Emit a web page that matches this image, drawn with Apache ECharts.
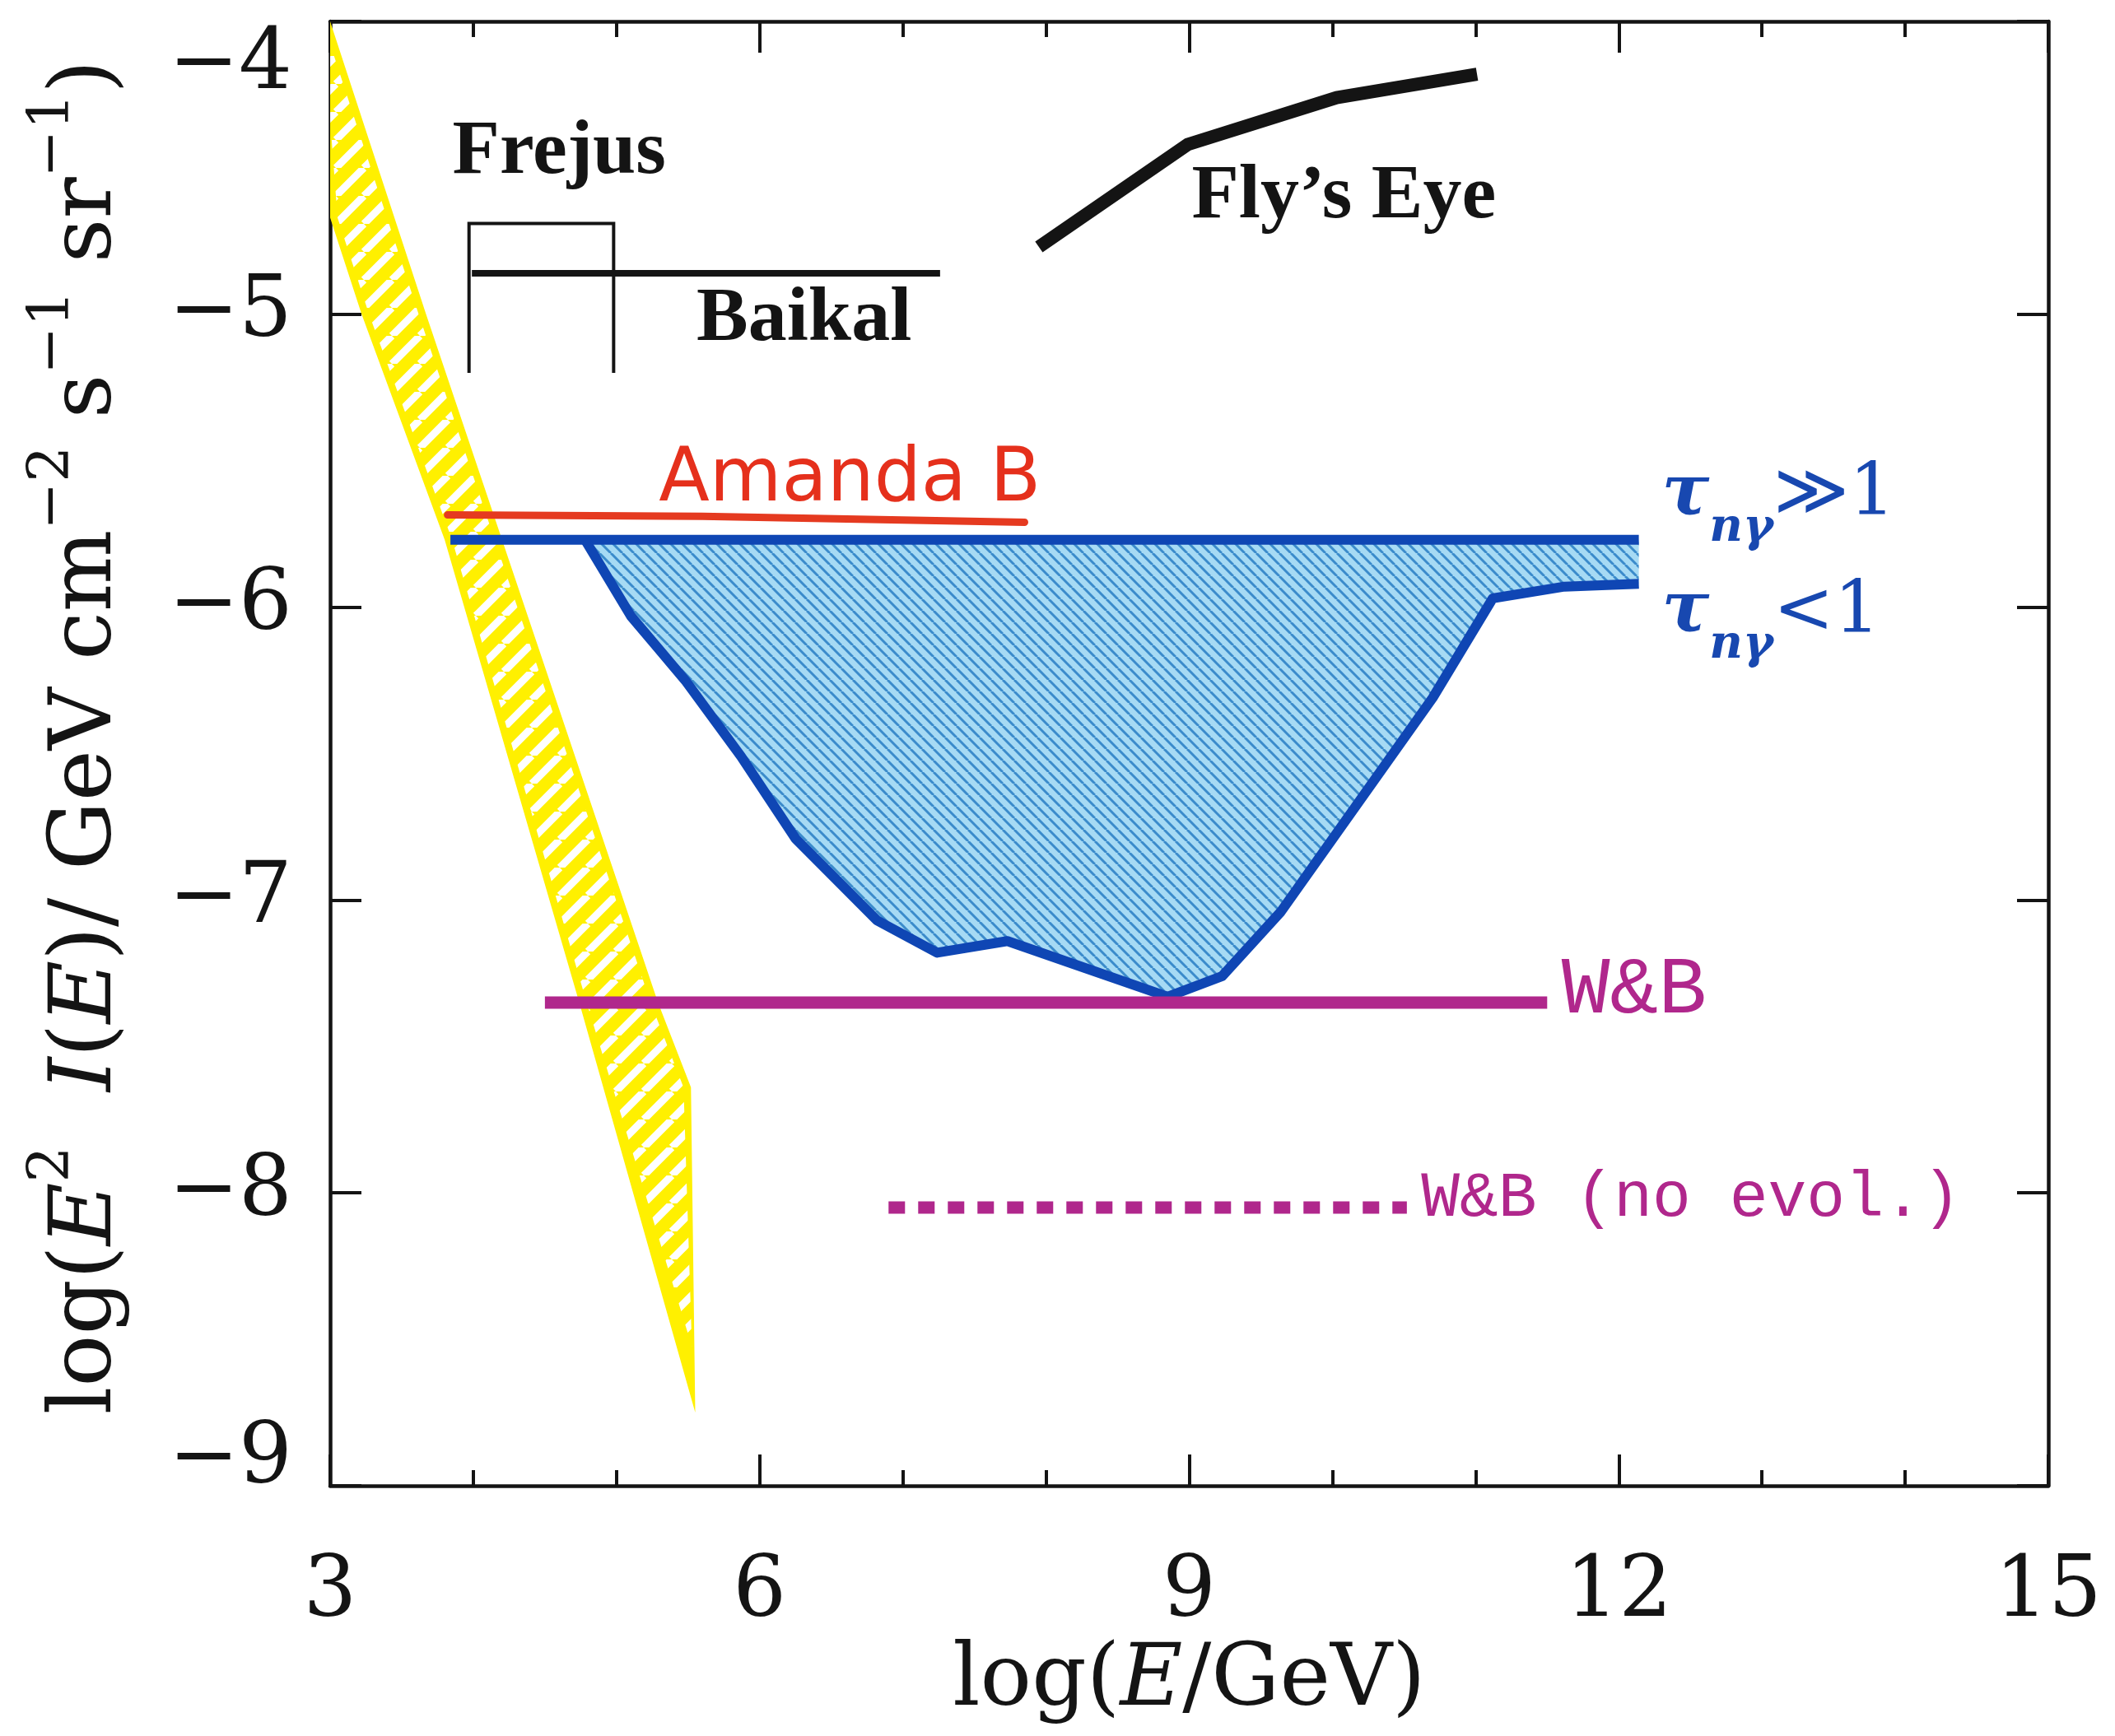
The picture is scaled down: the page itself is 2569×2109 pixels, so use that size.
<!DOCTYPE html>
<html>
<head>
<meta charset="utf-8">
<script src="https://cdn.jsdelivr.net/npm/echarts@6/dist/echarts.min.js"></script>
<style>
  html, body { margin: 0; padding: 0; background: #ffffff; }
  #chart { width: 2569px; height: 2109px; }
</style>
</head>
<body>
<div id="chart"></div>
<script>
// ---- axis ranges and ticks: log10(E/GeV) vs log10(E^2 I(E) / GeV cm^-2 s^-1 sr^-1)
const xTicks = [3, 6, 9, 12, 15];
const yTicks = [-9, -8, -7, -6, -5, -4];

// atmospheric neutrino band (upper-right and lower-left edges)
const atmUpperEdge = [[3.0, -4.0], [3.67, -5.0], [5.29, -7.35], [5.52, -7.64], [5.55, -8.75]];
const atmLowerEdge = [[3.0, -4.67], [3.22, -5.0], [3.80, -5.77], [4.74, -7.35], [5.55, -8.75]];

// neutron-escape model: optically thick and thin limits
const tauThick = [[3.84, -5.77], [12.14, -5.77]];
const tauThin = [
  [4.78, -5.77], [5.10, -6.03], [5.29, -6.14], [5.48, -6.25], [5.87, -6.51],
  [6.25, -6.79], [6.82, -7.07], [7.24, -7.18], [7.73, -7.14], [8.26, -7.23],
  [8.85, -7.33], [9.23, -7.26], [9.64, -7.04], [10.70, -6.31], [11.12, -5.97],
  [11.62, -5.93], [12.14, -5.92]
];

// experimental limits and bounds
const amandaB = [[3.82, -5.685], [5.60, -5.69], [7.85, -5.71]];
const wbBound = [[4.50, -7.35], [11.50, -7.35]];
const wbNoEvol = [[6.90, -8.05], [10.52, -8.05]];
const baikal = [[3.99, -4.86], [7.26, -4.86]];
const frejus = [[3.97, -5.20], [3.97, -4.69], [4.98, -4.69], [4.98, -5.20]];
const flysEye = [[7.95, -4.77], [8.99, -4.42], [10.03, -4.26], [11.01, -4.18]];

// annotation texts
const labelFrejus = 'Frejus';
const labelBaikal = 'Baikal';
const labelFly = 'Fly\u2019s Eye';
const labelAmanda = 'Amanda B';
const labelWB = 'W&B';
const labelWBnoEvol = 'W&B (no evol.)';

// ---- styling helpers
const SERIF = 'DejaVu Serif';
const INK = '#141414';
const BLUE = '#0f46b4';
const MAGENTA = '#b0278c';

function hatch(size, bg, fg, lw, dir) {
  const c = document.createElement('canvas');
  c.width = size; c.height = size;
  const g = c.getContext('2d');
  g.fillStyle = bg;
  g.fillRect(0, 0, size, size);
  g.strokeStyle = fg;
  g.lineWidth = lw;
  g.beginPath();
  for (let k = -1; k <= 1; k++) {
    if (dir === 'up') {
      g.moveTo(k * size, size);
      g.lineTo(k * size + size, 0);
    } else {
      g.moveTo(k * size, 0);
      g.lineTo(k * size + size, size);
    }
  }
  g.stroke();
  return c;
}
const yellowHatch = { image: hatch(34, '#fff000', '#ffffff', 9, 'up'), repeat: 'repeat' };
const blueHatch = { image: hatch(14, '#a6daf4', '#3b8bcb', 3, 'down'), repeat: 'repeat' };

function yTickLabel(v) {
  const s = (v < 0 ? '\u2212' : '') + Math.abs(v);
  if (v === -4) return '{hi|' + s + '}';
  if (v === -9) return '{lo|' + s + '}';
  return '{n|' + s + '}';
}

const tickFont = { fontFamily: SERIF, fontSize: 102, color: INK };
const axisLine = { show: true, onZero: false, lineStyle: { color: INK, width: 4.5 } };

function xAxisDef(pos, labels) {
  return {
    type: 'value', position: pos, min: xTicks[0], max: xTicks[xTicks.length - 1], interval: 3,
    axisLine: axisLine,
    axisTick: { show: true, inside: true, length: 38, lineStyle: { color: INK, width: 4 } },
    minorTick: { show: true, splitNumber: 3, length: 19, lineStyle: { color: INK, width: 4 } },
    splitLine: { show: false }, minorSplitLine: { show: false },
    axisLabel: Object.assign({ show: labels, margin: 80 }, tickFont),
  };
}
function yAxisDef(pos, labels) {
  return {
    type: 'value', position: pos, min: yTicks[0], max: yTicks[yTicks.length - 1], interval: 1,
    axisLine: axisLine,
    axisTick: { show: true, inside: true, length: 38, lineStyle: { color: INK, width: 4 } },
    splitLine: { show: false },
    axisLabel: {
      show: labels, margin: 46, formatter: yTickLabel,
      rich: {
        n: tickFont,
        hi: Object.assign({ padding: [108, 0, 0, 0] }, tickFont),
        lo: Object.assign({ padding: [0, 0, 62, 0] }, tickFont)
      }
    }
  };
}

const xAxisMain = xAxisDef('bottom', true);
xAxisMain.name = '{n|log(}{i|E}{n|/GeV)}';
xAxisMain.nameLocation = 'middle';
xAxisMain.nameGap = 178;
xAxisMain.nameTextStyle = {
  rich: {
    n: { fontFamily: SERIF, fontSize: 104, color: INK },
    i: { fontFamily: SERIF, fontSize: 104, fontStyle: 'italic', color: INK }
  }
};

const yAxisMain = yAxisDef('left', true);
yAxisMain.name = '{n|log(}{i|E}{s|2}{n|  }{i|I}{n|(}{i|E}{n|)/ GeV cm}{s|\u22122}{n| s}{s|\u22121}{n| sr}{s|\u22121}{n|)}';
yAxisMain.nameLocation = 'middle';
yAxisMain.nameRotate = 90;
yAxisMain.nameGap = 232;
yAxisMain.nameTextStyle = {
  padding: [0, 0, 0, 40],
  rich: {
    n: { fontFamily: SERIF, fontSize: 105, lineHeight: 124, color: INK },
    i: { fontFamily: SERIF, fontSize: 105, lineHeight: 124, fontStyle: 'italic', color: INK },
    s: { fontFamily: SERIF, fontSize: 69, lineHeight: 62, padding: [0, 0, 84, 0], color: INK }
  }
};

function lineSeries(data, color, width, extra) {
  return Object.assign({
    type: 'line', data: data, showSymbol: false, symbol: 'none', silent: true,
    animation: false, clip: true,
    lineStyle: { color: color, width: width, cap: 'butt', join: 'miter' }
  }, extra || {});
}

const plainText = { opacity: 1, textBorderWidth: 0, textShadowBlur: 0 };
function textPoint(at, text, style) {
  return { value: at, label: Object.assign({ show: true, formatter: text }, plainText, style) };
}

const detectorStyle = {
  position: 'inside', fontFamily: 'Liberation Serif', fontWeight: 'bold', fontSize: 94, color: INK
};
const TAU = '#1848b0';
const tauRich = {
  t: { fontFamily: SERIF, fontStyle: 'italic', fontWeight: 'bold', fontSize: 86, lineHeight: 90, color: TAU },
  s: { fontFamily: SERIF, fontStyle: 'italic', fontWeight: 'bold', fontSize: 56, lineHeight: 40, padding: [80, 0, 0, 0], color: TAU },
  r: { fontFamily: SERIF, fontSize: 88, lineHeight: 90, color: TAU }
};

const option = {
  backgroundColor: '#ffffff',
  animation: false,
  grid: { left: 401, right: 81, top: 26, bottom: 304, containLabel: false, outerBoundsMode: 'none' },
  xAxis: [xAxisMain, xAxisDef('top', false)],
  yAxis: [yAxisMain, yAxisDef('right', false)],
  series: [
    {
      // atmospheric band, hatched
      type: 'custom', z: 1, silent: true, clip: true,
      data: atmUpperEdge,
      renderItem: function (params, api) {
        if (params.dataIndex !== 0) return null;
        const m = 9;
        const right = atmUpperEdge.map(p => api.coord(p));
        const left = atmLowerEdge.map(p => api.coord(p));
        const outer = right.concat(left.slice(0, -1).reverse());
        const tip = right[right.length - 1];
        const inner = right.slice(0, -1).map(p => [p[0] - m, p[1]])
          .concat([[tip[0] - 4, tip[1] - 80]])
          .concat(left.slice(0, -1).reverse().map(p => [p[0] + m, p[1]]));
        return {
          type: 'group',
          children: [
            { type: 'polygon', shape: { points: outer }, style: { fill: '#fff000' } },
            { type: 'polygon', shape: { points: inner }, style: { fill: yellowHatch } }
          ]
        };
      }
    },
    {
      // region between the two opacity limits
      type: 'custom', z: 2, silent: true, clip: true,
      data: tauThin,
      renderItem: function (params, api) {
        if (params.dataIndex !== 0) return null;
        const pts = tauThin.map(p => api.coord(p));
        const top = tauThick[0][1];
        pts.push(api.coord([tauThin[tauThin.length - 1][0], top]));
        pts.push(api.coord([tauThin[0][0], top]));
        return { type: 'polygon', shape: { points: pts }, style: { fill: blueHatch } };
      }
    },
    lineSeries(tauThick, BLUE, 12, { z: 3 }),
    lineSeries(tauThin, BLUE, 12, { z: 3, lineStyle: { color: BLUE, width: 12, cap: 'butt', join: 'round' } }),
    lineSeries(amandaB, '#e53a20', 9, { z: 3, lineStyle: { color: '#e53a20', width: 9, cap: 'round', join: 'round' } }),
    lineSeries(wbBound, MAGENTA, 15, { z: 4 }),
    lineSeries(wbNoEvol, MAGENTA, 15, { z: 4, lineStyle: { color: MAGENTA, width: 15, type: [20, 16], cap: 'butt' } }),
    lineSeries(baikal, INK, 8, { z: 4 }),
    lineSeries(frejus, INK, 4, { z: 4 }),
    lineSeries(flysEye, INK, 16, { z: 4 }),
    {
      type: 'scatter', z: 10, silent: true, symbolSize: 0, animation: false,
      itemStyle: { opacity: 1 },
      data: [
        textPoint([4.60, -4.45], labelFrejus, detectorStyle),
        textPoint([6.31, -5.02], labelBaikal, detectorStyle),
        textPoint([10.08, -4.60], labelFly, detectorStyle),
        textPoint([6.63, -5.57], labelAmanda, {
          position: 'inside', fontFamily: 'DejaVu Sans', fontSize: 90, color: '#e5301c'
        }),
        textPoint([12.30, -5.62], '{t|\u03c4}{s|n\u03b3}{r|\u226b1}', {
          position: 'right', distance: 0, rich: tauRich
        }),
        textPoint([12.30, -6.02], '{t|\u03c4}{s|n\u03b3}{r|<1}', {
          position: 'right', distance: 0, rich: tauRich
        }),
        textPoint([11.60, -7.31], labelWB, {
          position: 'right', distance: 0, fontFamily: 'Liberation Mono', fontSize: 98, color: '#b0278c'
        }),
        textPoint([10.62, -8.02], labelWBnoEvol, {
          position: 'right', distance: 0, fontFamily: 'Liberation Mono', fontSize: 78, color: '#b0278c'
        })
      ]
    }
  ]
};

const chart = echarts.init(document.getElementById('chart'), null, { renderer: 'canvas', width: 2569, height: 2109 });
chart.setOption(option);
</script>
</body>
</html>
